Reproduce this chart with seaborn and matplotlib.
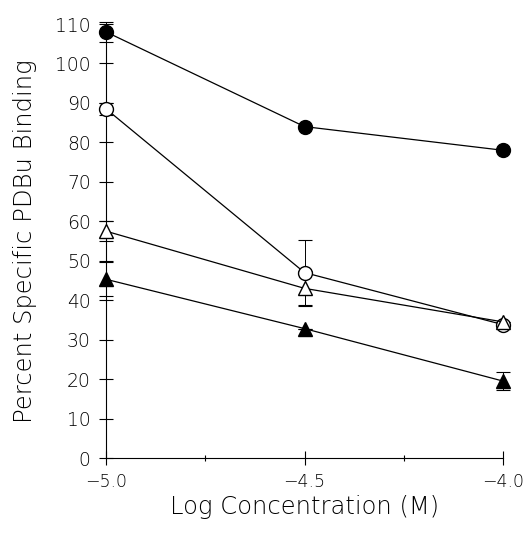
import numpy as np
import pandas as pd
import matplotlib
matplotlib.use("Agg")
import matplotlib.pyplot as plt
import seaborn as sns

log_conc = [-5.0, -4.5, -4.0]
x_ticks = [-5.0, -4.5, -4.0]
x_minor = [-4.75, -4.25]
x_labels = ["\u22125.0", "\u22124.5", "\u22124.0"]
y_ticks = list(range(0, 111, 10))

filled_circle = [108.0, 84.0, 78.0]
filled_circle_err = [2.5, 0.0, 0.0]
open_circle = [88.5, 47.0, 33.8]
open_circle_err = [1.5, 8.3, 0.0]
open_triangle = [57.5, 43.0, 34.5]
open_triangle_err = [2.5, 4.5, 0.0]
filled_triangle = [45.3, 32.8, 19.5]
filled_triangle_err = [4.3, 0.0, 2.2]

series = [
    ("filled circle", filled_circle, filled_circle_err, "o", "black"),
    ("open circle", open_circle, open_circle_err, "o", "white"),
    ("open triangle", open_triangle, open_triangle_err, "^", "white"),
    ("filled triangle", filled_triangle, filled_triangle_err, "^", "black"),
]

sns.set_style("ticks")
plt.rcParams["font.family"] = ["DejaVu Sans"]
plt.rcParams["text.color"] = "black"
plt.rcParams["axes.labelcolor"] = "black"
plt.rcParams["xtick.color"] = "black"
plt.rcParams["ytick.color"] = "black"

fig = plt.figure(figsize=(5.28, 5.34), dpi=100)
ax = fig.add_axes([0.2008, 0.1423, 0.7519, 0.8127])

for name, vals, errs, mk, fc in series:
    df = pd.DataFrame({"x": log_conc, "y": vals})
    ax.errorbar(df["x"], df["y"], yerr=errs, fmt="none", ecolor="black",
                elinewidth=0.7, capsize=5, capthick=0.8, zorder=2)
    sns.lineplot(data=df, x="x", y="y", ax=ax, color="black", lw=0.9,
                 marker=mk, markersize=10 if mk == "o" else 10.5,
                 markerfacecolor=fc, markeredgecolor="black",
                 markeredgewidth=1.0, zorder=3)

ax.set_xticks(x_ticks)
ax.set_xticks(x_minor, minor=True)
ax.set_xticklabels(x_labels)
ax.set_yticks(y_ticks)
ax.set_xlim(-5.0, -4.0)
ax.set_ylim(0, 110)
ax.tick_params(axis="both", which="major", direction="inout", length=10,
               width=0.8, colors="black")
ax.tick_params(axis="x", which="minor", direction="inout", length=5, width=0.8)
ax.tick_params(axis="x", labelsize=12.5, pad=6)
ax.tick_params(axis="y", labelsize=13.5, pad=6)
for s in ["top", "right"]:
    ax.spines[s].set_visible(False)
for s in ["left", "bottom"]:
    ax.spines[s].set_linewidth(0.8)
    ax.spines[s].set_color("black")
for lab in ax.get_xticklabels() + ax.get_yticklabels():
    lab.set_fontweight("light")

ax.set_xlabel("Log Concentration (M)", fontsize=17.5, fontweight="light",
              color="black", labelpad=3)
ax.set_ylabel("Percent Specific PDBu Binding", fontsize=17.5,
              fontweight="light", color="black", labelpad=13)
for art in ax.lines + ax.collections:
    art.set_clip_on(False)

fig.savefig("out.png", dpi=100)
